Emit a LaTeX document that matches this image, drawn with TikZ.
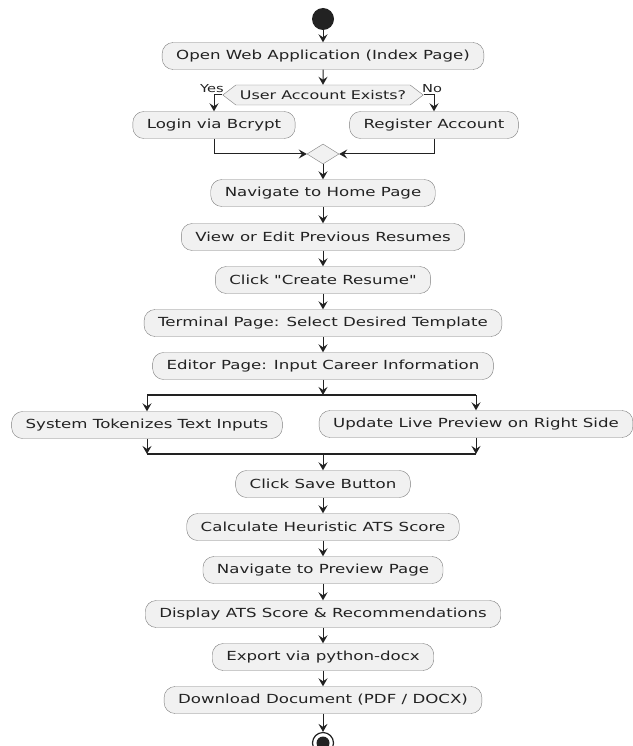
\documentclass[tikz,border=0pt]{standalone}
\usepackage{fontspec}
\newfontfamily\actfont{DejaVu Sans}[FakeStretch=1.33]
\usetikzlibrary{arrows.meta}
\usetikzlibrary{shapes.geometric,shapes.symbols}
\definecolor{actfill}{RGB}{241,241,241}
\definecolor{actline}{RGB}{125,125,125}
\definecolor{flowline}{RGB}{34,34,34}

\begin{document}
\begin{tikzpicture}[x=1pt, y=-1pt,
  act/.style={draw=actline, fill=actfill, rounded corners=11pt, minimum height=27pt,
    inner xsep=14pt, text=flowline, font=\actfont\fontsize{12.5}{15}\selectfont},
  decide/.style={draw=actline, fill=actfill, signal, signal to=east and west,
    signal pointer angle=75, minimum height=20pt, inner xsep=4pt, inner ysep=1pt,
    text=flowline, font=\actfont\fontsize{12}{14}\selectfont},
  merger/.style={draw=actline, fill=actfill, diamond, minimum width=32pt,
    minimum height=20pt, inner sep=0pt},
  flow/.style={draw=flowline, line width=1pt, -{Stealth[length=8pt,width=9pt,inset=3pt]}},
  bar/.style={draw=flowline, line width=1.6pt},
  lbl/.style={text=flowline, inner sep=0pt, font=\actfont\fontsize{11}{13}\selectfont}]

\useasboundingbox (0,0) rectangle (632,746);

\def\mx{323};

% start and login choice
\node[circle, fill=flowline, minimum size=22pt, inner sep=0pt] (start) at (\mx,19) {};
\node[act] (open) at (\mx,56) {Open Web Application (Index Page)};
\node[decide] (check) at (\mx,95) {User Account Exists?};
\node[act] (login) at (214,125) {Login via Bcrypt};
\node[act] (register) at (434,125) {Register Account};
\node[merger] (merge) at (\mx,154) {};
\node[lbl] (yes) at (212,89) {Yes};
\node[lbl] (no) at (432,89) {No};

% main steps
\node[act] (home) at (\mx,193) {Navigate to Home Page};
\node[act] (view) at (\mx,237) {View or Edit Previous Resumes};
\node[act] (create) at (\mx,280) {Click "Create Resume"};
\node[act] (terminal) at (\mx,323) {Terminal Page: Select Desired Template};
\node[act] (editor) at (\mx,366) {Editor Page: Input Career Information};

% parallel part
\coordinate (forkL) at (147,395);
\coordinate (forkR) at (476,395);
\node[act] (tokenize) at (147,425) {System Tokenizes Text Inputs};
\node[act] (preview) at (476,424) {Update Live Preview on Right Side};
\coordinate (joinL) at (147,454);
\coordinate (joinR) at (476,454);

\node[act] (save) at (\mx,484) {Click Save Button};
\node[act] (calc) at (\mx,527) {Calculate Heuristic ATS Score};
\node[act] (navprev) at (\mx,570) {Navigate to Preview Page};
\node[act] (display) at (\mx,614) {Display ATS Score \& Recommendations};
\node[act] (export) at (\mx,657) {Export via python-docx};
\node[act] (download) at (\mx,700) {Download Document (PDF / DOCX)};
\node[circle, draw=flowline, line width=1.2pt, minimum size=21pt, inner sep=0pt] (stop) at (\mx,743) {};
\fill[flowline] (stop.center) circle (6.5pt);

\draw[flow] (start) -- (open);
\draw[flow] (open) -- (check);
\draw[flow] (check.west) -| (login.north);
\draw[flow] (check.east) -| (register.north);
\draw[flow] (login.south) |- (merge.west);
\draw[flow] (register.south) |- (merge.east);
\draw[flow] (merge) -- (home);
\draw[flow] (home) -- (view);
\draw[flow] (view) -- (create);
\draw[flow] (create) -- (terminal);
\draw[flow] (terminal) -- (editor);

\draw[flow] (editor.south) -- (editor.south |- forkL);
\draw[bar] (forkL) -- (forkR);
\draw[flow] (forkL) -- (tokenize.north);
\draw[flow] (forkR) -- (preview.north);
\draw[flow] (tokenize.south) -- (joinL);
\draw[flow] (preview.south) -- (joinR);
\draw[bar] (joinL) -- (joinR);
\draw[flow] (save.north |- joinL) -- (save.north);

\draw[flow] (save) -- (calc);
\draw[flow] (calc) -- (navprev);
\draw[flow] (navprev) -- (display);
\draw[flow] (display) -- (export);
\draw[flow] (export) -- (download);
\draw[flow] (download) -- (stop);

\end{tikzpicture}
\end{document}
